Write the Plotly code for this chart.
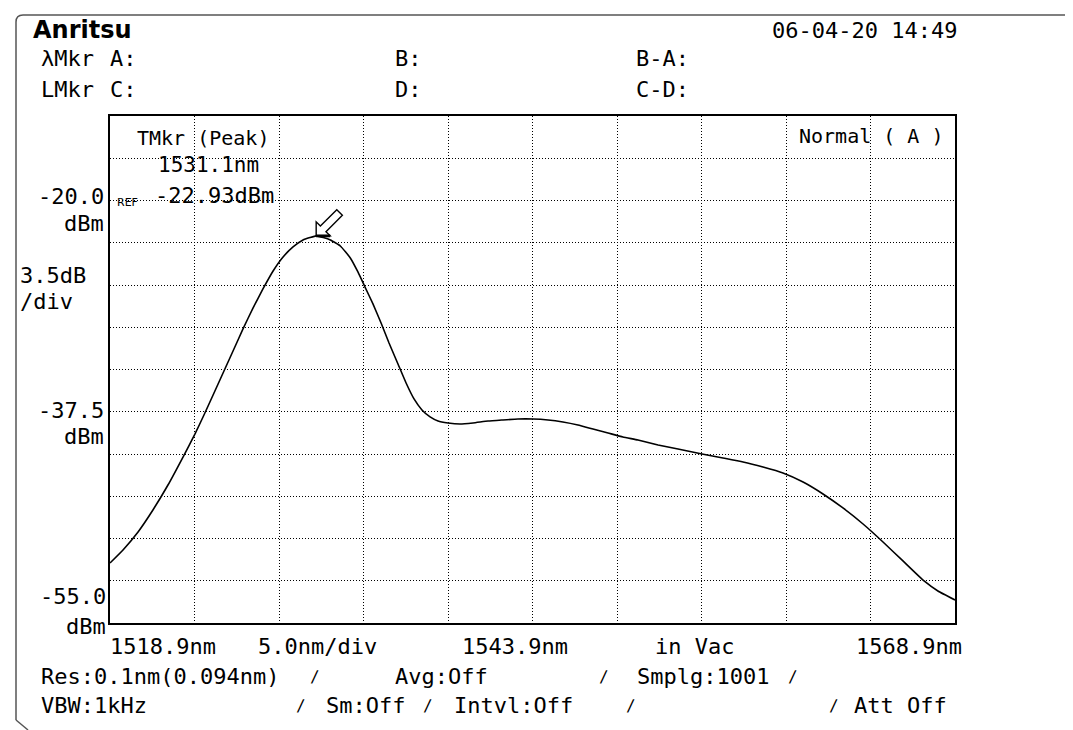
import plotly.graph_objects as go

# ---- data ----
wavelength_nm = [1518.90, 1519.67, 1520.56, 1521.44, 1522.33, 1523.22, 1523.93, 1524.46,
                 1525.00, 1525.59, 1526.18, 1526.77, 1527.36, 1527.95, 1528.55, 1529.14,
                 1529.73, 1530.32, 1530.73, 1531.10, 1531.52, 1531.94, 1532.53, 1533.12,
                 1533.57, 1533.99, 1534.46, 1534.94, 1535.41, 1535.94, 1536.42, 1536.89,
                 1537.36, 1537.84, 1538.31, 1538.90, 1539.61, 1540.38, 1541.27, 1542.15,
                 1543.04, 1543.93, 1544.82, 1545.70, 1546.59, 1547.48, 1548.37, 1549.25,
                 1550.14, 1551.33, 1552.51, 1553.93, 1555.17, 1556.36, 1557.54, 1558.72,
                 1559.91, 1561.09, 1562.27, 1563.46, 1564.64, 1565.82, 1567.07, 1567.89,
                 1568.90]
power_dbm = [-50.03, -48.95, -47.46, -45.64, -43.57, -41.25, -39.34, -37.77,
             -36.11, -34.29, -32.47, -30.64, -28.91, -27.33, -25.84, -24.68,
             -23.85, -23.27, -23.07, -22.93, -23.07, -23.27, -23.77, -24.76,
             -25.92, -27.17, -28.57, -30.15, -31.80, -33.54, -35.12, -36.44,
             -37.35, -37.93, -38.27, -38.43, -38.52, -38.43, -38.27, -38.18,
             -38.10, -38.10, -38.18, -38.35, -38.60, -38.93, -39.26, -39.59,
             -39.84, -40.25, -40.59, -41.00, -41.33, -41.66, -42.08, -42.57,
             -43.32, -44.31, -45.47, -46.80, -48.29, -49.86, -51.52, -52.35,
             -53.09]

peak_wl = 1531.1
peak_dbm = -22.93

x_start, x_div, n_xdiv = 1518.9, 5.0, 10
y_bottom, y_div, n_ydiv = -55.0, 3.5, 12

W, H = 1073, 730
L, R, T, B = 102, 947, 108, 615
FONT = "DejaVu Sans Mono"


def px(x):
    return (x - L) / (R - L)


def py(y):
    return (B - y) / (B - T)


fig = go.Figure()
fig.add_trace(go.Scatter(x=wavelength_nm, y=power_dbm, mode="lines",
                         line=dict(color="black", width=1.6, shape="spline", smoothing=0.4),
                         hoverinfo="skip", showlegend=False))

axis_common = dict(showgrid=True, gridcolor="black", gridwidth=1, griddash="1px,2px",
                   showticklabels=False, ticks="", showline=True, linecolor="black",
                   linewidth=2, mirror=True, zeroline=False, fixedrange=True)
fig.update_xaxes(range=[x_start, x_start + x_div * n_xdiv], tickmode="linear",
                 tick0=x_start, dtick=x_div, **axis_common)
fig.update_yaxes(range=[y_bottom, y_bottom + y_div * n_ydiv], tickmode="linear",
                 tick0=y_bottom, dtick=y_div, **axis_common)

annotations = []


def txt(s, x, y, anchor="left", size=22, family=FONT, color="black"):
    shift = -3 if anchor == "left" else 3
    annotations.append(dict(text=s, x=px(x), y=py(y), xref="paper", yref="paper",
                            xanchor=anchor, yanchor="middle", showarrow=False,
                            xshift=shift,
                            font=dict(family=family, size=size, color=color)))


# header
txt("<b>Anritsu</b>", 26, 22, size=24, family="DejaVu Sans")
txt("06-04-20 14:49", 765, 22)
txt("λMkr", 34, 50); txt("A:", 103, 50); txt("B:", 388, 50); txt("B-A:", 629, 50)
txt("LMkr", 34, 82); txt("C:", 103, 82); txt("D:", 388, 82); txt("C-D:", 629, 82)

# in-plot labels
txt("TMkr (Peak)", 130, 130, size=20)
txt("1531.1nm", 250, 157, anchor="right", size=21)
txt("-22.93dBm", 265, 187, anchor="right", size=22)
txt("REF", 110, 194, size=11, family="DejaVu Sans")
txt("Normal ( A )", 935, 128, anchor="right", size=20)

# y labels
txt("-20.0", 95, 188, anchor="right"); txt("dBm", 95, 215, anchor="right")
txt("3.5dB", 13, 267); txt("∕div", 13, 293)
txt("-37.5", 95, 402, anchor="right"); txt("dBm", 95, 428, anchor="right")
txt("-55.0", 97, 588, anchor="right"); txt("dBm", 97, 618, anchor="right")

# x labels
txt("1518.9nm", 103, 638)
txt("5.0nm∕div", 251, 638)
txt("1543.9nm", 455, 638)
txt("in Vac", 648, 638)
txt("1568.9nm", 953, 638, anchor="right")

# footer
txt("Res:0.1nm(0.094nm)", 34, 668); txt("∕", 303, 668, size=16)
txt("Avg:Off", 388, 668); txt("∕", 592, 668, size=16)
txt("Smplg:1001", 630, 668); txt("∕", 781, 668, size=16)
txt("VBW:1kHz", 34, 697); txt("∕", 289, 697, size=16); txt("Sm:Off", 319, 697)
txt("∕", 416, 697, size=16); txt("Intvl:Off", 447, 697)
txt("∕", 619, 697, size=16); txt("∕", 822, 697, size=16); txt("Att Off", 847, 697)

# peak marker: hollow arrow whose tip sits on the peak (pixel-sized, anchored at data point)
arrow_path = "M 0,0 L 0,14 L 4.2,9.8 L 20.6,26.2 L 26.2,20.6 L 9.8,4.2 L 14,0 Z"
shapes = [
    dict(type="path", xref="x", yref="y", xsizemode="pixel", ysizemode="pixel",
         xanchor=peak_wl, yanchor=peak_dbm, path=arrow_path,
         fillcolor="white", line=dict(color="black", width=1.4)),
    dict(type="line", xref="x", yref="y", xsizemode="pixel", ysizemode="pixel",
         xanchor=peak_wl, yanchor=peak_dbm, x0=0, x1=14, y0=0, y1=0,
         line=dict(color="black", width=2.8)),
]

# outer panel frame
shapes += [
    dict(type="path", xref="paper", yref="paper",
         path=(f"M {px(8)},{py(712)} L {px(8)},{py(14)} Q {px(8)},{py(7)} {px(15)},{py(7)} "
               f"L {px(1067)},{py(7)} L {px(1067)},{py(720)}"),
         line=dict(color="#555555", width=1.5)),
    dict(type="path", xref="paper", yref="paper",
         path=f"M {px(8)},{py(712)} L {px(20)},{py(722)}",
         line=dict(color="#555555", width=1.5)),
    dict(type="rect", xref="paper", yref="paper", x0=px(20), x1=px(1073),
         y0=py(729), y1=py(722), line=dict(width=0), fillcolor="#8c8c8c"),
]

fig.update_layout(width=W, height=H, margin=dict(l=L, r=W - R, t=T, b=H - B),
                  paper_bgcolor="white", plot_bgcolor="white",
                  annotations=annotations, shapes=shapes, showlegend=False)

fig.write_html("out.html")
